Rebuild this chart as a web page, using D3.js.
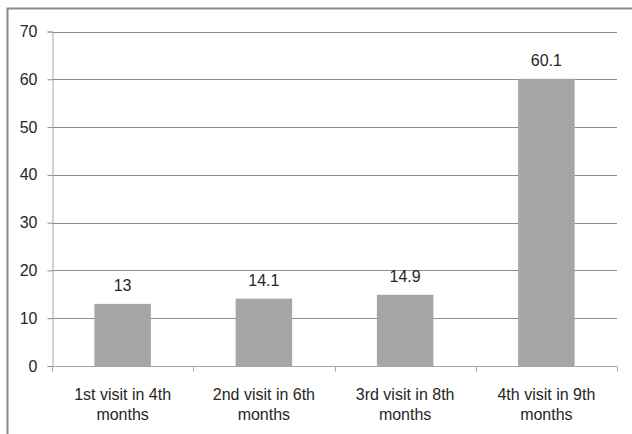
<!DOCTYPE html>
<html>
<head>
<meta charset="utf-8">
<script src="https://cdn.jsdelivr.net/npm/d3@7"></script>
<style>
  html, body { margin: 0; padding: 0; background: #fff; }
  svg { display: block; }
  text { font-family: "Liberation Sans", Arial, sans-serif; fill: #262626; }
</style>
</head>
<body>
<div id="chart"></div>
<script>
// Visits and the share recorded for each one
const categories = [
  ["1st visit in 4th", "months"],
  ["2nd visit in 6th", "months"],
  ["3rd visit in 8th", "months"],
  ["4th visit in 9th", "months"]
];
const values = [13, 14.1, 14.9, 60.1];
const yTicks = [0, 10, 20, 30, 40, 50, 60, 70];

const width = 632, height = 434;
const margin = { left: 52, right: 15, top: 31.5, bottom: 68 };

const svg = d3.select("#chart").append("svg")
  .attr("width", width).attr("height", height);

// outer chart frame (runs past the right and bottom edges)
svg.append("rect")
  .attr("x", 7.5).attr("y", 8.5)
  .attr("width", width + 10).attr("height", height + 10)
  .attr("fill", "none").attr("stroke", "#8a8a8a").attr("stroke-width", 2);

const keys = categories.map((c, i) => i);
const x = d3.scaleBand()
  .domain(keys)
  .range([margin.left, width - margin.right])
  .paddingInner(0.6).paddingOuter(0.3);
const xOuter = d3.scaleBand()
  .domain(keys)
  .range([margin.left, width - margin.right]);
const y = d3.scaleLinear()
  .domain([0, 70])
  .range([height - margin.bottom, margin.top]);

// horizontal gridlines
svg.append("g")
  .selectAll("line")
  .data(yTicks.filter(t => t > 0))
  .join("line")
  .attr("x1", margin.left).attr("x2", width - margin.right)
  .attr("y1", d => Math.round(y(d)) + 0.5).attr("y2", d => Math.round(y(d)) + 0.5)
  .attr("stroke", "#8c8c8c").attr("stroke-width", 1);

// y axis
const yAxis = svg.append("g")
  .attr("transform", `translate(${margin.left + 0.5},0)`)
  .call(d3.axisLeft(y).tickValues(yTicks).tickSize(5).tickPadding(10).tickFormat(d3.format("d")));
yAxis.select(".domain").attr("stroke", "#a6a6a6");
yAxis.selectAll(".tick line").attr("stroke", "#8c8c8c");
yAxis.selectAll(".tick text")
  .attr("font-size", 16).attr("fill", "#262626")
  .style("font-family", "'Liberation Sans', Arial, sans-serif");

// bars
svg.append("g")
  .selectAll("rect")
  .data(values)
  .join("rect")
  .attr("x", (d, i) => x(i))
  .attr("width", x.bandwidth())
  .attr("y", d => y(d))
  .attr("height", d => y(0) - y(d))
  .attr("fill", "#a6a6a6");

// value labels
svg.append("g")
  .selectAll("text")
  .data(values)
  .join("text")
  .attr("x", (d, i) => x(i) + x.bandwidth() / 2)
  .attr("y", d => y(d) - 13)
  .attr("text-anchor", "middle")
  .attr("font-size", 16)
  .text(d => d);

// x axis with ticks at the category boundaries
const xAxisG = svg.append("g")
  .attr("transform", `translate(0,${Math.round(y(0)) + 0.5})`);
xAxisG.append("line")
  .attr("x1", margin.left).attr("x2", width - margin.right)
  .attr("stroke", "#a6a6a6");
const bounds = keys.map(k => xOuter(k)).concat([width - margin.right]);
xAxisG.selectAll("line.tick")
  .data(bounds)
  .join("line")
  .attr("class", "tick")
  .attr("x1", d => Math.round(d) + 0.5).attr("x2", d => Math.round(d) + 0.5)
  .attr("y1", 0).attr("y2", 5)
  .attr("stroke", "#a6a6a6");

// category labels on two lines
const labels = svg.append("g")
  .selectAll("text")
  .data(categories)
  .join("text")
  .attr("text-anchor", "middle")
  .attr("font-size", 16)
  .attr("transform", (d, i) => `translate(${xOuter(i) + xOuter.bandwidth() / 2},0)`);
labels.selectAll("tspan")
  .data(d => d)
  .join("tspan")
  .attr("x", 0)
  .attr("y", (d, j) => 399.5 + j * 20.5)
  .text(d => d);
</script>
</body>
</html>
